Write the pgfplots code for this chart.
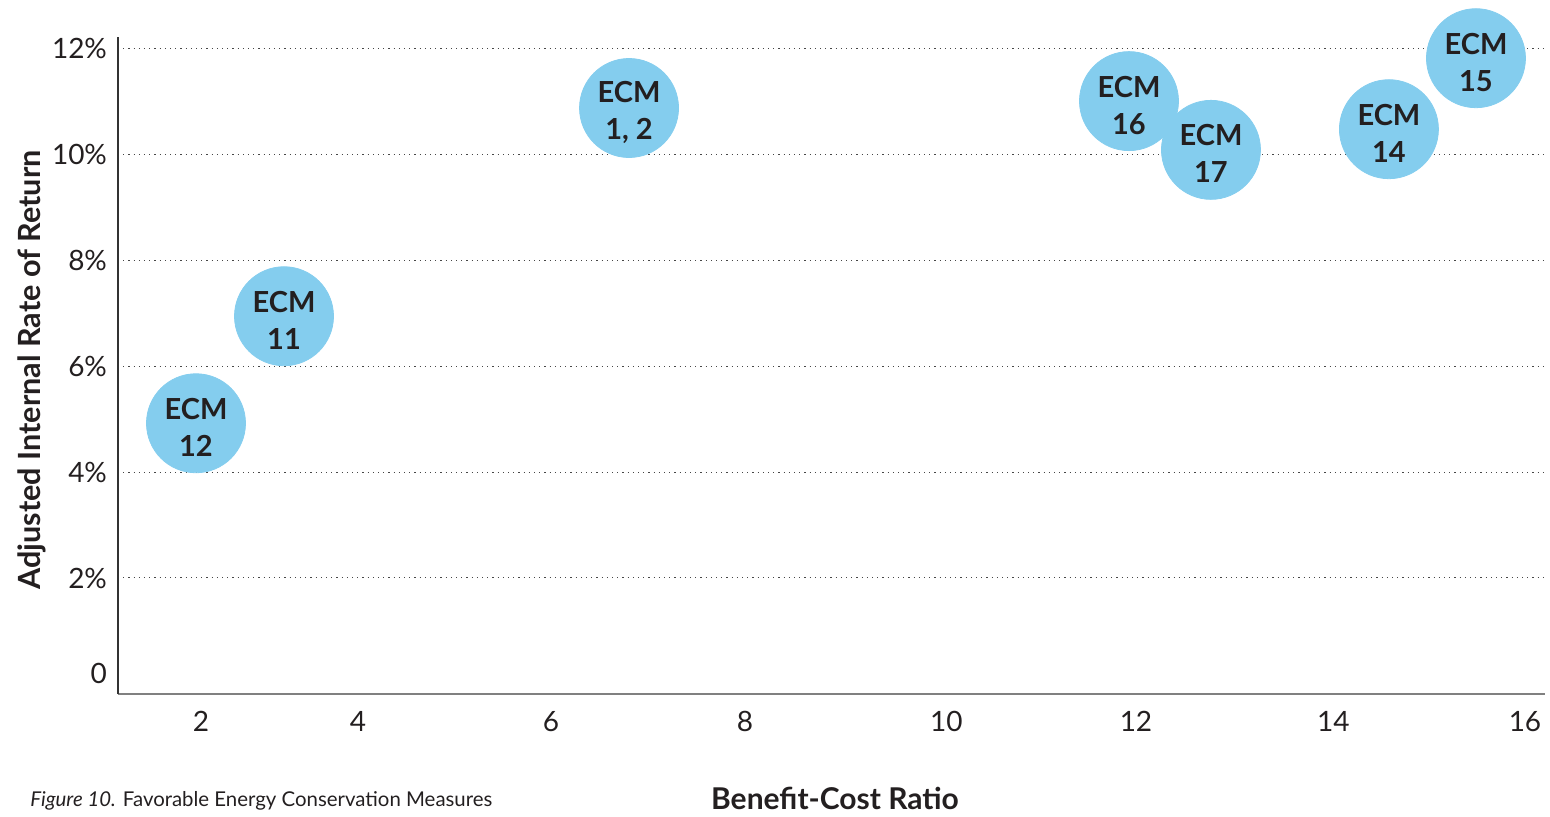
\documentclass[border=0pt]{standalone}
\usepackage{fontspec}
\setmainfont{Lato}
\usepackage{pgfplots}
\pgfplotsset{compat=1.18}
\definecolor{bubble}{RGB}{132,205,238}
\definecolor{txt}{RGB}{35,31,32}
\definecolor{gridc}{RGB}{70,70,70}
\begin{document}
\begin{tikzpicture}
\path[use as bounding box] (-59pt,-61pt) rectangle (716pt,347pt);
\begin{axis}[
  at={(0,0)}, anchor=south west,
  scale only axis, width=713.5pt, height=328.5pt,
  xmin=1.532, xmax=16.206, ymin=-0.19, ymax=12.21,
  axis x line*=bottom, axis y line*=left,
  x axis line style={-, draw=gray, line width=0.8pt},
  y axis line style={-, draw=black!80, line width=0.6pt},
  major tick length=0pt,
  xtick={2.386,4,5.985,7.98,10.05,12,14.03,16},
  xticklabels={2,4,6,8,10,12,14,16},
  ytick={2,4,6,8,10,12},
  yticklabels={2\%,4\%,6\%,8\%,10\%,12\%},
  extra y ticks={0.19}, extra y tick labels={0},
  extra y tick style={grid=none},
  ymajorgrids, grid style={gridc, line width=0.5pt, dash pattern=on 0.6pt off 2pt},
  tick label style={font=\fontsize{14}{16}\selectfont, text=txt},
  xticklabel style={anchor=base, yshift=-18.5pt},
  yticklabel style={anchor=east, xshift=-2pt},
  /pgf/number format/assume math mode=true,
  clip=false,
]
\addplot[only marks, mark=*, mark size=24.75pt, color=bubble,
  mark options={draw=bubble, fill=bubble},
  point meta=explicit symbolic,
  nodes near coords={ECM\\\pgfplotspointmeta},
  nodes near coords align=center,
  every node near coord/.append style={align=center, text=txt,
    font=\fontsize{14.5}{18.5}\selectfont\bfseries, anchor=center, yshift=-2pt}]
coordinates {
  (2.334,4.92) [12]
  (3.239,6.94) [11]
  (6.787,10.87) [{1, 2}]
  (11.928,11.00) [16]
  (12.771,10.08) [17]
  (14.601,10.47) [14]
  (15.496,11.81) [15]
};
\end{axis}
\node[font=\fontsize{15}{18}\selectfont\bfseries, text=txt] at (358.5pt,-52pt) {Benefit-Cost Ratio};
\node[font=\fontsize{10.2}{12}\selectfont, text=txt, anchor=west, inner sep=0pt] at (-44pt,-53.5pt) {\textit{Figure 10.} Favorable Energy Conservation Measures};
\node[font=\fontsize{15.3}{18}\selectfont\bfseries, text=txt, rotate=90] at (-43pt,162pt) {Adjusted Internal Rate of Return};
\end{tikzpicture}
\end{document}
